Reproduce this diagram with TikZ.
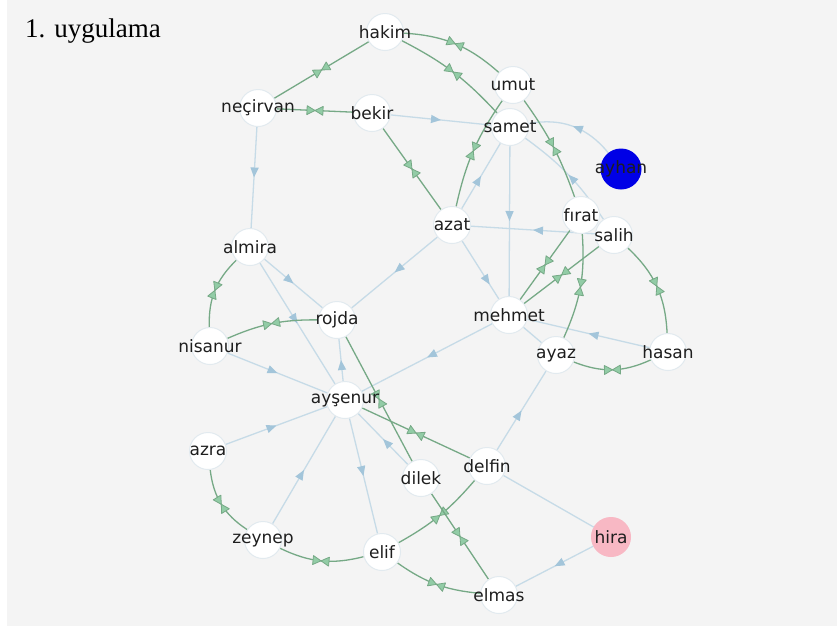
\documentclass[tikz,border=0pt]{standalone}
\usepackage{fontspec}
\setmainfont{Liberation Serif}
\newfontfamily\graphfont{DejaVu Sans}
\usepackage{tikz}
\usetikzlibrary{arrows.meta,decorations.markings}
\usepackage{xcolor}
\definecolor{PanelGray}{HTML}{F4F4F4}
\definecolor{NodeRing}{HTML}{E2EAEF}
\definecolor{LabelGray}{HTML}{1E1E1E}
\definecolor{EdgeBlue}{HTML}{C6DBE7}
\definecolor{ArrowBlue}{HTML}{A3C5DA}
\definecolor{EdgeGreen}{HTML}{76A986}
\definecolor{MarkGreen}{HTML}{92CCA6}
\definecolor{NodeBlue}{HTML}{0000E6}
\definecolor{NodePink}{HTML}{F8B8C4}

\pgfdeclarelayer{edges}
\pgfsetlayers{edges,main}

\begin{document}
\begin{tikzpicture}[x=1pt,y=1pt,
   person/.style={circle,fill=white,draw=NodeRing,line width=1pt,minimum size=37pt,inner sep=0pt,
      label={[font=\graphfont\fontsize{17}{17}\selectfont,text=LabelGray]center:#1}},
   oneway/.style={EdgeBlue,line width=1.3pt,postaction={decorate},
      decoration={markings,mark=at position #1 with {\arrow{Triangle[length=10pt,width=8pt,color=ArrowBlue]}}}},
   oneway/.default=0.5,
   plainline/.style={EdgeBlue,line width=1.3pt},
   twoway/.style={EdgeGreen,line width=1.3pt,postaction={decorate},
      decoration={markings,mark=at position 0.5 with {
         \filldraw[fill=MarkGreen,draw=EdgeGreen,line width=0.8pt,line join=round]
            (-8pt,-4.5pt) -- (0,0) -- (-8pt,4.5pt) -- cycle
            (8pt,-4.5pt) -- (0,0) -- (8pt,4.5pt) -- cycle;}}}]

   \useasboundingbox (0,0) rectangle (837,-630);

   \node[person=hakim] (hakim) at (385,-32) {};
   \node[person=umut] (umut) at (513,-85) {};
   \node[person=neçirvan] (necirvan) at (258,-108) {};
   \node[person=bekir] (bekir) at (372,-113) {};
   \node[person=samet] (samet) at (510,-127) {};
   \node[person=ayhan,fill=NodeBlue,draw=NodeBlue,minimum size=40pt] (ayhan) at (621,-169) {};
   \node[person=azat] (azat) at (452,-225) {};
   \node[person=fırat] (firat) at (581,-215) {};
   \node[person=salih] (salih) at (614,-235) {};
   \node[person=almira] (almira) at (250,-247) {};
   \node[person=rojda] (rojda) at (337,-320) {};
   \node[person=mehmet] (mehmet) at (509,-315) {};
   \node[person=nisanur] (nisanur) at (210,-346) {};
   \node[person=ayaz] (ayaz) at (556,-355) {};
   \node[person=hasan] (hasan) at (668,-352) {};
   \node[person=ayşenur] (aysenur) at (345,-400) {};
   \node[person=azra] (azra) at (208,-451) {};
   \node[person=dilek] (dilek) at (421,-478) {};
   \node[person=delfin] (delfin) at (487,-466) {};
   \node[person=hira,fill=NodePink,draw=NodePink,minimum size=39pt] (hira) at (611,-537) {};
   \node[person=zeynep] (zeynep) at (263,-540) {};
   \node[person=elif] (elif) at (382,-552) {};
   \node[person=elmas] (elmas) at (499,-595) {};

   \node[anchor=base west,inner sep=0pt,font=\fontsize{27}{27}\selectfont] (title) at (25,-37) {1. uygulama};

   \begin{pgfonlayer}{edges}
   \fill[PanelGray] (7,0) rectangle (837,-626);

   \draw[oneway] (bekir) -- (samet);
   \draw[oneway] (necirvan) -- (almira);
   \draw[oneway] (ayhan) to[bend right=31] (samet);
   \draw[oneway] (salih) to[bend right=10] (samet);
   \draw[oneway] (samet) -- (mehmet);
   \draw[oneway] (azat) -- (samet);
   \draw[oneway] (salih) -- (azat);
   \draw[oneway] (mehmet) -- (aysenur);
   \draw[oneway] (azat) -- (rojda);
   \draw[oneway=0.75] (azat) -- (mehmet);
   \draw[oneway] (almira) -- (aysenur);
   \draw[oneway] (almira) -- (rojda);
   \draw[oneway] (aysenur) -- (rojda);
   \draw[oneway] (nisanur) -- (aysenur);
   \draw[oneway] (azra) -- (aysenur);
   \draw[oneway] (zeynep) -- (aysenur);
   \draw[oneway] (aysenur) -- (elif);
   \draw[oneway] (dilek) -- (aysenur);
   \draw[oneway] (delfin) -- (ayaz);
   \draw[oneway] (hasan) -- (mehmet);
   \draw[oneway] (hira) -- (elmas);
   \draw[plainline] (delfin) -- (hira);
   \draw[plainline] (mehmet) -- (ayaz);

   \draw[twoway] (hakim) -- (necirvan);
   \draw[twoway] (hakim) to[bend left=19] (umut);
   \draw[twoway] (hakim) to[bend left=10] (samet);
   \draw[twoway] (necirvan) -- (bekir);
   \draw[twoway] (bekir) -- (azat);
   \draw[twoway] (umut) to[bend right=11] (azat);
   \draw[twoway] (umut) to[bend left=8] (firat);
   \draw[twoway] (firat) -- (mehmet);
   \draw[twoway] (salih) -- (mehmet);
   \draw[twoway] (firat) to[bend left=14] (ayaz);
   \draw[twoway] (salih) to[bend left=22] (hasan);
   \draw[twoway] (ayaz) to[bend right=23] (hasan);
   \draw[twoway] (almira) to[bend right=24] (nisanur);
   \draw[twoway] (nisanur) to[bend left=12] (rojda);
   \draw[twoway] (rojda) -- (dilek);
   \draw[twoway] (aysenur) -- (delfin);
   \draw[twoway] (azra) to[bend right=25] (zeynep);
   \draw[twoway] (zeynep) to[bend right=20] (elif);
   \draw[twoway] (elif) to[bend right=10] (delfin);
   \draw[twoway] (dilek) -- (elmas);
   \draw[twoway] (elif) to[bend right=15] (elmas);
   \end{pgfonlayer}
\end{tikzpicture}
\end{document}
